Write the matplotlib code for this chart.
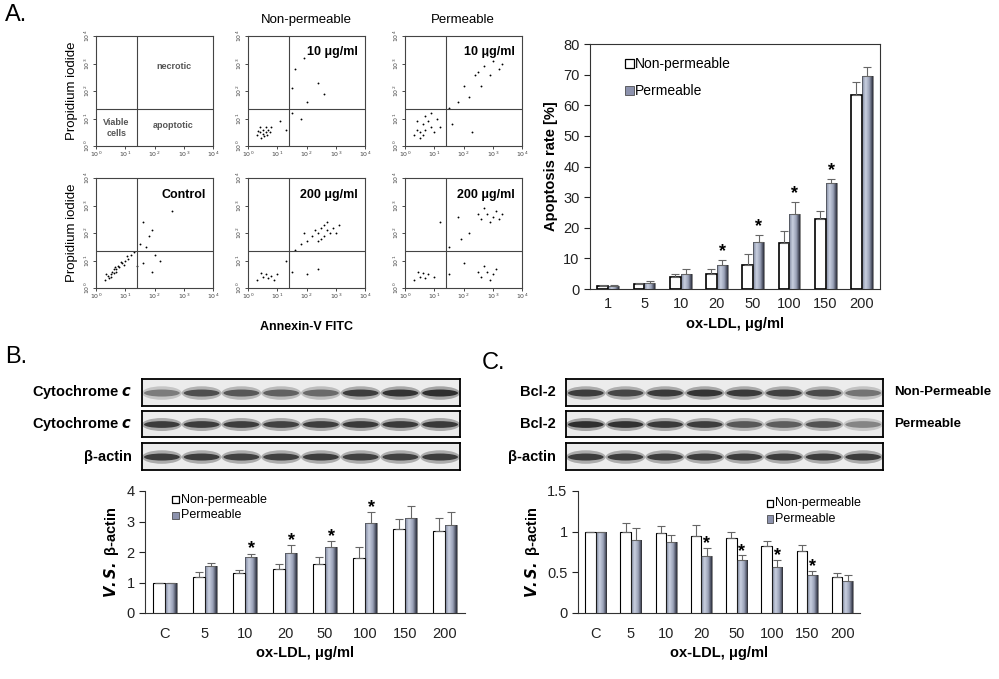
import numpy as np
import matplotlib
matplotlib.use("Agg")
from matplotlib import pyplot as plt
from matplotlib.patches import Rectangle, Ellipse

plt.rcParams['font.family'] = ['Liberation Sans', 'DejaVu Sans']

W, H = 999, 679

# ---- data ----
a_doses = ["1", "5", "10", "20", "50", "100", "150", "200"]
a_non = [1.0, 1.5, 4.0, 5.0, 8.0, 15.0, 23.0, 63.5]
a_non_err = [0.3, 0.3, 0.8, 1.5, 3.5, 4.0, 2.5, 4.0]
a_perm = [1.0, 2.0, 5.0, 8.0, 15.5, 24.5, 34.5, 69.5]
a_perm_err = [0.3, 0.5, 1.5, 1.5, 2.0, 4.0, 1.5, 3.0]
a_star = [3, 4, 5, 6]

bc_doses = ["C", "5", "10", "20", "50", "100", "150", "200"]
b_non = [1.0, 1.18, 1.3, 1.45, 1.6, 1.8, 2.75, 2.7]
b_non_err = [0.0, 0.15, 0.1, 0.17, 0.25, 0.35, 0.32, 0.42]
b_perm = [1.0, 1.55, 1.83, 1.98, 2.15, 2.95, 3.1, 2.9]
b_perm_err = [0.0, 0.1, 0.12, 0.25, 0.2, 0.37, 0.42, 0.4]
b_star = [2, 3, 4, 5]

c_non = [1.0, 0.99, 0.98, 0.95, 0.92, 0.82, 0.76, 0.44]
c_non_err = [0.0, 0.12, 0.09, 0.13, 0.08, 0.06, 0.07, 0.05]
c_perm = [1.0, 0.9, 0.87, 0.70, 0.65, 0.56, 0.47, 0.39]
c_perm_err = [0.0, 0.15, 0.09, 0.1, 0.06, 0.09, 0.05, 0.08]
c_star = [3, 4, 5, 6]

# band intensities (0..1) per lane
cyto_non = [0.45, 0.7, 0.65, 0.6, 0.55, 0.8, 0.85, 0.88]
cyto_perm = [0.8, 0.8, 0.8, 0.78, 0.8, 0.82, 0.82, 0.82]
actin_b = [0.8, 0.8, 0.78, 0.78, 0.8, 0.78, 0.78, 0.8]
bcl_non = [0.8, 0.75, 0.82, 0.85, 0.82, 0.78, 0.72, 0.5]
bcl_perm = [0.88, 0.86, 0.82, 0.8, 0.65, 0.62, 0.68, 0.4]
actin_c = [0.8, 0.8, 0.8, 0.8, 0.8, 0.8, 0.8, 0.8]

# flow cytometry points (log10 Annexin-V, log10 PI), hand-picked
flow_ctrl = [(0.3,0.3),(0.4,0.45),(0.5,0.5),(0.55,0.6),(0.6,0.55),(0.7,0.7),(0.75,0.8),(0.8,0.75),
             (0.9,0.9),(1.0,1.0),(1.1,1.05),(1.2,1.2),(1.3,1.3),(0.45,0.35),(0.65,0.75),(0.85,0.95),
             (1.5,1.6),(1.7,1.5),(1.9,2.1),(1.6,2.4),(2.0,1.2),(2.2,1.0),(1.4,0.8),(0.35,0.5),(0.5,0.4),
             (0.6,0.7),(0.7,0.6),(0.95,0.85),(1.05,1.15),(1.8,1.9),(2.6,2.8),(1.9,0.6),(1.6,0.9)]
flow_n10 = [(0.3,0.4),(0.4,0.5),(0.5,0.45),(0.5,0.6),(0.6,0.5),(0.6,0.7),(0.7,0.6),(0.45,0.3),
            (0.35,0.55),(0.55,0.35),(0.65,0.4),(0.75,0.5),(0.8,0.7),(0.4,0.7),(1.1,0.9),(1.5,1.2),
            (2.0,1.6),(2.4,2.3),(1.8,1.0),(2.6,1.9),(1.3,0.6),(1.6,2.8),(1.9,3.2),(1.5,2.1)]
flow_p10 = [(0.3,0.4),(0.4,0.6),(0.5,0.5),(0.6,0.8),(0.7,0.6),(0.8,0.9),(0.9,0.7),(0.5,0.3),
            (0.4,0.9),(1.0,0.5),(1.1,1.0),(0.7,1.1),(0.6,0.4),(1.2,0.7),(0.9,1.2),(1.5,1.4),
            (1.8,1.6),(2.0,2.2),(2.4,2.6),(2.7,2.9),(3.0,3.1),(2.6,2.2),(2.9,2.6),(3.2,2.8),
            (2.2,1.8),(1.6,0.8),(2.3,0.5),(2.8,3.3),(3.3,3.0),(2.5,2.7)]
flow_n200 = [(0.3,0.3),(0.5,0.4),(0.6,0.5),(0.7,0.35),(0.8,0.45),(0.45,0.55),(0.9,0.3),(1.0,0.5),
             (2.2,1.9),(2.4,2.0),(2.5,2.2),(2.6,1.9),(2.7,2.1),(2.8,2.0),(2.9,2.2),(2.5,1.8),
             (2.3,2.1),(2.6,2.3),(3.0,2.0),(2.4,1.7),(1.6,1.4),(1.8,1.6),(2.0,1.7),(1.5,0.6),
             (2.0,0.5),(2.4,0.7),(1.3,1.0),(3.1,2.3),(2.7,2.4),(1.9,2.0)]
flow_p200 = [(0.3,0.3),(0.5,0.4),(0.6,0.55),(0.7,0.35),(0.8,0.5),(0.45,0.6),(1.0,0.4),
             (2.6,0.4),(2.8,0.6),(3.0,0.5),(2.7,0.8),(2.9,0.3),(3.1,0.7),(2.5,0.6),
             (2.6,2.5),(2.8,2.7),(3.0,2.6),(2.9,2.4),(3.1,2.8),(2.7,2.9),(3.2,2.5),(2.5,2.7),
             (1.5,1.5),(1.9,1.8),(2.2,2.0),(1.2,2.4),(1.8,2.6),(2.0,0.9),(1.5,0.5),(3.3,2.7)]

PERM_CMAP = matplotlib.colors.LinearSegmentedColormap.from_list(
    "g", ["#7d869e", "#c9d0e0", "#9aa2b8", "#2c2f3d"])


def ax_px(x0, y0, x1, y1):
    return fig.add_axes([x0 / W, 1 - y1 / H, (x1 - x0) / W, (y1 - y0) / H])


def flow_plot(x0, y0, pts, label=None, ylab=False, xlab=False, quad_text=False):
    ax = ax_px(x0, y0, x0 + 117, y0 + 110)
    ax.set_xlim(0, 4)
    ax.set_ylim(0, 4)
    if pts:
        p = np.array(pts)
        ax.scatter(p[:, 0], p[:, 1], s=1.8, c='k', lw=0)
    ax.axvline(1.39, color='#444444', lw=0.8)
    ax.axhline(1.35, color='#444444', lw=0.8)
    ax.set_xticks(range(5))
    ax.set_yticks(range(5))
    ax.set_xticklabels(["$10^{%d}$" % i for i in range(5)], fontsize=4.5, color='#444444')
    ax.set_yticklabels(["$10^{%d}$" % i for i in range(5)], fontsize=4.5, rotation=90,
                       va='center', color='#444444')
    ax.tick_params(length=2, width=0.5, pad=1)
    for s in ax.spines.values():
        s.set_linewidth(0.8)
        s.set_color('#444444')
    if label:
        ax.text(0.94, 0.85, label, transform=ax.transAxes, ha='right', va='center',
                fontsize=9, fontweight='bold')
    if ylab:
        ax.set_ylabel("Propidium iodide", fontsize=9.5, labelpad=3)
    if xlab:
        ax.set_xlabel("Annexin-V FITC", fontsize=9, fontweight='bold', labelpad=14)
    if quad_text:
        ax.text(2.65, 2.8, "necrotic", fontsize=6.5, fontweight='bold', ha='center', color='#555555')
        ax.text(2.65, 0.65, "apoptotic", fontsize=6.5, fontweight='bold', ha='center', color='#555555')
        ax.text(0.7, 0.65, "Viable\ncells", fontsize=6.5, fontweight='bold', ha='center',
                va='center', color='#555555')
    return ax


def grad_bars(ax, xs, vals, width):
    grad = np.linspace(0, 1, 50).reshape(1, -1)
    for x, v in zip(xs, vals):
        im = ax.imshow(grad, extent=(x, x + width, 0, v), aspect='auto', cmap=PERM_CMAP, zorder=2)
        r = Rectangle((x, 0), width, v, fill=False, ec='#333333', lw=0.4, zorder=3)
        ax.add_patch(r)
        im.set_clip_path(r)


def bar_chart(ax, cats, non, non_err, perm, perm_err, stars, ymax, yticks, star_off, boxed=False):
    x = np.arange(len(cats))
    w = 0.3
    ax.bar(x - w, non, w, align='edge', color='white', edgecolor='k',
           lw=1.2 if boxed else 0.8, zorder=3)
    ax.errorbar(x - w / 2, non, yerr=[np.zeros(len(non)), non_err], fmt='none',
                ecolor='#666666', elinewidth=0.8, capsize=3, capthick=0.8, zorder=4)
    grad_bars(ax, x, perm, w)
    ax.errorbar(x + w / 2, perm, yerr=[np.zeros(len(perm)), perm_err], fmt='none',
                ecolor='#666666', elinewidth=0.8, capsize=3, capthick=0.8, zorder=4)
    for i in stars:
        ax.text(x[i] + w / 2, perm[i] + perm_err[i] + star_off, "*", ha='center',
                va='center', fontsize=13, fontweight='bold')
    ax.set_xlim(-0.5, len(cats) - 0.5)
    ax.set_ylim(0, ymax)
    ax.set_yticks(yticks)
    ax.set_xticks(x)
    ax.set_xticklabels(cats)
    ax.tick_params(labelsize=10.5, length=4, width=0.8, colors='#222222')
    ax.tick_params(axis='x', length=0, pad=10)
    if not boxed:
        ax.spines['top'].set_visible(False)
        ax.spines['right'].set_visible(False)
    for s in ax.spines.values():
        s.set_linewidth(0.8)
        s.set_color('#333333')


def legend(ax, x, y, dy, fs, sw, sh):
    ax.add_patch(Rectangle((x, y - sh / 2), sw, sh, transform=ax.transAxes, fc='white',
                           ec='k', lw=0.9, clip_on=False))
    ax.add_patch(Rectangle((x, y - dy - sh / 2), sw, sh, transform=ax.transAxes,
                           fc='#8c92ad', ec='#333333', lw=0.5, clip_on=False))
    ax.text(x + sw + 0.006, y, "Non-permeable", transform=ax.transAxes, va='center', fontsize=fs)
    ax.text(x + sw + 0.006, y - dy, "Permeable", transform=ax.transAxes, va='center', fontsize=fs)


def blot(x0, y0, x1, y1, vals, label, side=None):
    ax = ax_px(x0, y0, x1, y1)
    ax.set_xlim(0, len(vals))
    ax.set_ylim(0, 1)
    ax.set_facecolor('#ececec')
    for i, v in enumerate(vals):
        g = 1 - v
        ax.add_patch(Ellipse((i + 0.5, 0.48), 1.0, 0.5, color=(0.4 + 0.5 * g,) * 3, lw=0, alpha=0.6))
        ax.add_patch(Ellipse((i + 0.5, 0.48), 0.9, 0.26, color=(0.1 + 0.7 * g,) * 3, lw=0))
    ax.set_xticks([])
    ax.set_yticks([])
    for s in ax.spines.values():
        s.set_linewidth(1.3)
    fig.text((x0 - 10) / W, 1 - (y0 + y1) / 2 / H, label, ha='right', va='center',
             fontsize=10.5, fontweight='bold')
    if side:
        fig.text((x1 + 11) / W, 1 - (y0 + y1) / 2 / H, side, ha='left', va='center',
                 fontsize=9.5, fontweight='bold')


fig = plt.figure(figsize=(W / 100, H / 100), dpi=100)

# ---- panel A ----
fig.text(5 / W, 1 - 15 / H, "A.", fontsize=17, va='center')
flow_plot(96, 36, [], ylab=True, quad_text=True)
flow_plot(248, 36, flow_n10, label="10 μg/ml")
flow_plot(405, 36, flow_p10, label="10 μg/ml")
flow_plot(96, 178, flow_ctrl, label="Control", ylab=True)
flow_plot(248, 178, flow_n200, label="200 μg/ml", xlab=True)
flow_plot(405, 178, flow_p200, label="200 μg/ml")
fig.text(306 / W, 1 - 20 / H, "Non-permeable", ha='center', va='center', fontsize=9.5)
fig.text(463 / W, 1 - 20 / H, "Permeable", ha='center', va='center', fontsize=9.5)

axA = ax_px(590, 44, 880, 289)
bar_chart(axA, a_doses, a_non, a_non_err, a_perm, a_perm_err, a_star, 80,
          range(0, 81, 10), 2.8, boxed=True)
axA.tick_params(axis='x', pad=6)
axA.set_ylabel("Apoptosis rate [%]", fontsize=10.5, fontweight='bold')
axA.set_xlabel("ox-LDL, μg/ml", fontsize=10.5, fontweight='bold', labelpad=4)
legend(axA, 0.12, 0.92, 0.11, 10, 0.03, 0.035)

# ---- panel B ----
fig.text(5 / W, 1 - 357 / H, "B.", fontsize=17, va='center')
blot(142, 379, 460, 406, cyto_non, "Cytochrome $\\mathbfit{c}$")
blot(142, 411, 460, 437, cyto_perm, "Cytochrome $\\mathbfit{c}$")
blot(142, 443, 460, 470, actin_b, "β-actin")
axB = ax_px(145, 491, 465, 613)
bar_chart(axB, bc_doses, b_non, b_non_err, b_perm, b_perm_err, b_star, 4, range(0, 5), 0.15)
axB.set_ylabel("$\\mathbfit{V.S.}$ β-actin", fontsize=10.5, fontweight='bold')
axB.set_xlabel("ox-LDL, μg/ml", fontsize=10.5, fontweight='bold', labelpad=4)
legend(axB, 0.085, 0.93, 0.13, 9, 0.02, 0.06)

# ---- panel C ----
fig.text(482 / W, 1 - 363 / H, "C.", fontsize=17, va='center')
blot(566, 379, 883, 406, bcl_non, "Bcl-2", side="Non-Permeable")
blot(566, 411, 883, 437, bcl_perm, "Bcl-2", side="Permeable")
blot(566, 443, 883, 470, actin_c, "β-actin")
axC = ax_px(578, 491, 860, 613)
bar_chart(axC, bc_doses, c_non, c_non_err, c_perm, c_perm_err, c_star, 1.5, [0, 0.5, 1, 1.5], 0.05)
axC.set_yticklabels(["0", "0.5", "1", "1.5"])
axC.set_ylabel("$\\mathbfit{V.S.}$ β-actin", fontsize=10.5, fontweight='bold')
axC.set_xlabel("ox-LDL, μg/ml", fontsize=10.5, fontweight='bold', labelpad=4)
legend(axC, 0.67, 0.9, 0.13, 9, 0.022, 0.06)

fig.savefig("out.png", dpi=100)
